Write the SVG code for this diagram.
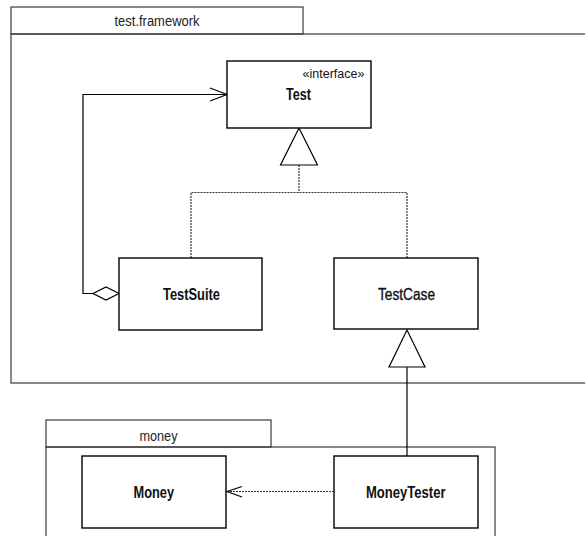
<svg xmlns="http://www.w3.org/2000/svg" width="585" height="536" viewBox="0 0 585 536">
<style>
.pkg{fill:none;stroke:#3a3a3a;stroke-width:1.2}
.box{fill:#fff;stroke:#000;stroke-width:1.4}
.t{font-family:"Liberation Sans",Arial,sans-serif;font-size:16.5px;fill:#111}
.p{font-size:15px;fill:#222}
.s{font-size:12.5px}
.b{font-weight:bold}
.m{stroke:#111;stroke-width:0.35}
.ln{fill:none;stroke:#000;stroke-width:1.2}
.dot{fill:none;stroke:#333;stroke-width:1.2;stroke-dasharray:2,1}
.head{fill:#fff;stroke:#000;stroke-width:1.2}
</style>
<g id="pkg-test-framework">
<rect class="pkg" x="11" y="7" width="292" height="27"/>
<rect class="pkg" x="11" y="34" width="580" height="349"/>
<text class="t p" x="157" y="25.5" text-anchor="middle" textLength="85" lengthAdjust="spacingAndGlyphs">test.framework</text>
</g>
<g id="pkg-money">
<rect class="pkg" x="46" y="420" width="225" height="27"/>
<rect class="pkg" x="46" y="447" width="449" height="100"/>
<text class="t p" x="158.5" y="440.5" text-anchor="middle" textLength="38" lengthAdjust="spacingAndGlyphs">money</text>
</g>
<g id="connectors">
<polyline class="ln" points="119,293.5 83,293.5 83,94.5 227,94.5"/>
<polyline class="ln" points="210,88 227,94.5 210,101"/>
<polygon class="head" points="93,293.5 106,287 119,293.5 106,300"/>
<polyline class="dot" points="191,258 191,192.5 407,192.5 407,258"/>
<line class="dot" x1="299" y1="165" x2="299" y2="192.5"/>
<polygon class="head" points="299,128 280.5,165 317.5,165"/>
<line class="ln" x1="407" y1="367" x2="407" y2="456"/>
<polygon class="head" points="407,330 389,367 425,367"/>
<line class="dot" x1="334" y1="491.5" x2="227" y2="491.5"/>
<polyline class="ln" points="242,486.5 227,491.5 242,497"/>
</g>
<g id="Test">
<rect class="box" x="227" y="61" width="144" height="67"/>
<text class="t s" x="364.5" y="77.5" text-anchor="end" textLength="62" lengthAdjust="spacingAndGlyphs">«interface»</text>
<text class="t b" x="286" y="99.5" textLength="25" lengthAdjust="spacingAndGlyphs">Test</text>
</g>
<g id="TestSuite">
<rect class="box" x="119" y="258" width="143" height="72"/>
<text class="t b" x="163" y="300" textLength="57" lengthAdjust="spacingAndGlyphs">TestSuite</text>
</g>
<g id="TestCase">
<rect class="box" x="334" y="258" width="144" height="71"/>
<text class="t m" x="378" y="300" textLength="57" lengthAdjust="spacingAndGlyphs">TestCase</text>
</g>
<g id="Money">
<rect class="box" x="82" y="456" width="144" height="72"/>
<text class="t b" x="133.5" y="497.5" textLength="40.5" lengthAdjust="spacingAndGlyphs">Money</text>
</g>
<g id="MoneyTester">
<rect class="box" x="334" y="456" width="144" height="72"/>
<text class="t b" x="366" y="497.5" textLength="79.5" lengthAdjust="spacingAndGlyphs">MoneyTester</text>
</g>
</svg>
